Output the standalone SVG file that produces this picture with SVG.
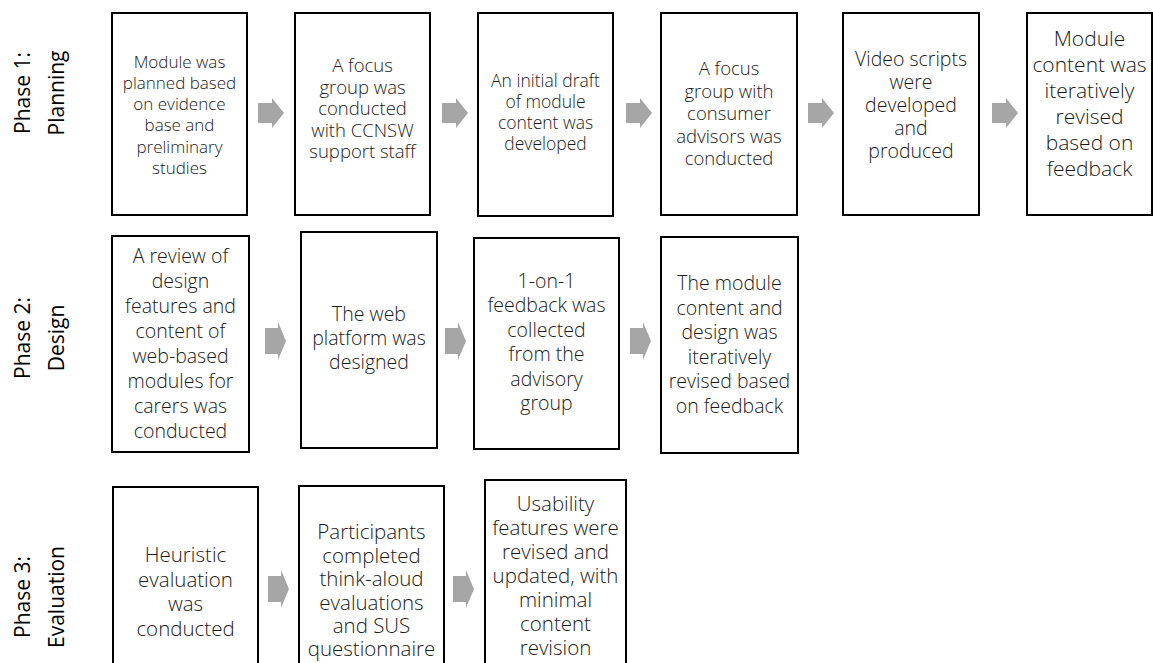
<svg xmlns="http://www.w3.org/2000/svg" width="1153" height="663" viewBox="0 0 1153 663">
<style>
.box{fill:#fff;stroke:#000;stroke-width:2}
.arr{fill:#a6a6a6;stroke:none}
.t{font-family:"Open Sans","Segoe UI","Liberation Sans",sans-serif;font-weight:300;fill:#1a1a1a;text-anchor:middle}
.ph{font-family:"Open Sans","Segoe UI","Liberation Sans",sans-serif;font-weight:400;font-size:21px;fill:#000;text-anchor:middle}
</style>
<rect width="1153" height="663" fill="#fff"/>
<g id="labels">
<text class="ph" transform="translate(0,93) rotate(-90)"><tspan x="0" y="30">Phase 1:</tspan><tspan x="0" y="64">Planning</tspan></text>
<text class="ph" transform="translate(0,338) rotate(-90)"><tspan x="0" y="30">Phase 2:</tspan><tspan x="0" y="64">Design</tspan></text>
<text class="ph" transform="translate(0,597) rotate(-90)"><tspan x="0" y="30">Phase 3:</tspan><tspan x="0" y="64">Evaluation</tspan></text>
</g>
<g id="connectors">
<polygon class="arr" points="258,103 272,103 272,98 284,113 272,128 272,123 258,123"/>
<polygon class="arr" points="442,103 456,103 456,98 468,113 456,128 456,123 442,123"/>
<polygon class="arr" points="626,103 640,103 640,98 652,113 640,128 640,123 626,123"/>
<polygon class="arr" points="808,103 822,103 822,98 834,113 822,128 822,123 808,123"/>
<polygon class="arr" points="992,103 1006,103 1006,98 1018,113 1006,128 1006,123 992,123"/>
<polygon class="arr" points="265,328 278,328 278,322 286,341 278,360 278,354 265,354"/>
<polygon class="arr" points="445,328 458,328 458,322 466,341 458,360 458,354 445,354"/>
<polygon class="arr" points="630,328 643,328 643,322 651,341 643,360 643,354 630,354"/>
<polygon class="arr" points="268,576 281,576 281,570 289,589 281,608 281,602 268,602"/>
<polygon class="arr" points="453,576 466,576 466,570 474,589 466,608 466,602 453,602"/>
</g>
<g id="p1n1"><rect class="box" x="112" y="13" width="135" height="202"/>
<text class="t" font-size="17px"><tspan x="179.5" y="68">Module was</tspan><tspan x="179.5" y="89">planned based</tspan><tspan x="179.5" y="110">on evidence</tspan><tspan x="179.5" y="131">base and</tspan><tspan x="179.5" y="153">preliminary</tspan><tspan x="179.5" y="174">studies</tspan></text></g>
<g id="p1n2"><rect class="box" x="295" y="13" width="135" height="202"/>
<text class="t" font-size="18.5px"><tspan x="362.5" y="72">A focus</tspan><tspan x="362.5" y="93.5">group was</tspan><tspan x="362.5" y="115">conducted</tspan><tspan x="362.5" y="136.5">with CCNSW</tspan><tspan x="362.5" y="158">support staff</tspan></text></g>
<g id="p1n3"><rect class="box" x="478" y="13" width="135" height="203"/>
<text class="t" font-size="17.5px"><tspan x="545.5" y="87">An initial draft</tspan><tspan x="545.5" y="108">of module</tspan><tspan x="545.5" y="129">content was</tspan><tspan x="545.5" y="150">developed</tspan></text></g>
<g id="p1n4"><rect class="box" x="661" y="13" width="136" height="202"/>
<text class="t" font-size="18.5px"><tspan x="729" y="75">A focus</tspan><tspan x="729" y="97.5">group with</tspan><tspan x="729" y="120">consumer</tspan><tspan x="729" y="142.5">advisors was</tspan><tspan x="729" y="165">conducted</tspan></text></g>
<g id="p1n5"><rect class="box" x="843" y="13" width="136" height="202"/>
<text class="t" font-size="19.5px"><tspan x="911" y="66">Video scripts</tspan><tspan x="911" y="89">were</tspan><tspan x="911" y="112">developed</tspan><tspan x="911" y="135">and</tspan><tspan x="911" y="158">produced</tspan></text></g>
<g id="p1n6"><rect class="box" x="1027" y="13" width="125" height="202"/>
<text class="t" font-size="21px"><tspan x="1089.5" y="46">Module</tspan><tspan x="1089.5" y="72">content was</tspan><tspan x="1089.5" y="98">iteratively</tspan><tspan x="1089.5" y="124">revised</tspan><tspan x="1089.5" y="150">based on</tspan><tspan x="1089.5" y="176">feedback</tspan></text></g>
<g id="p2n1"><rect class="box" x="112" y="236" width="137" height="216"/>
<text class="t" font-size="19.5px"><tspan x="180.5" y="263">A review of</tspan><tspan x="180.5" y="288">design</tspan><tspan x="180.5" y="313">features and</tspan><tspan x="180.5" y="338">content of</tspan><tspan x="180.5" y="363">web-based</tspan><tspan x="180.5" y="388">modules for</tspan><tspan x="180.5" y="413">carers was</tspan><tspan x="180.5" y="438">conducted</tspan></text></g>
<g id="p2n2"><rect class="box" x="301" y="232" width="136" height="216"/>
<text class="t" font-size="19.5px"><tspan x="369" y="321">The web</tspan><tspan x="369" y="345">platform was</tspan><tspan x="369" y="369">designed</tspan></text></g>
<g id="p2n3"><rect class="box" x="474" y="238" width="145" height="211"/>
<text class="t" font-size="19.5px"><tspan x="546.5" y="288">1-on-1</tspan><tspan x="546.5" y="312">feedback was</tspan><tspan x="546.5" y="337">collected</tspan><tspan x="546.5" y="361">from the</tspan><tspan x="546.5" y="386">advisory</tspan><tspan x="546.5" y="410">group</tspan></text></g>
<g id="p2n4"><rect class="box" x="661" y="237" width="137" height="216"/>
<text class="t" font-size="19.5px"><tspan x="729.5" y="290">The module</tspan><tspan x="729.5" y="315">content and</tspan><tspan x="729.5" y="339">design was</tspan><tspan x="729.5" y="364">iteratively</tspan><tspan x="729.5" y="388">revised based</tspan><tspan x="729.5" y="413">on feedback</tspan></text></g>
<g id="p3n1"><rect class="box" x="113" y="487" width="145" height="190"/>
<text class="t" font-size="20.5px"><tspan x="185.5" y="562">Heuristic</tspan><tspan x="185.5" y="586.5">evaluation</tspan><tspan x="185.5" y="611">was</tspan><tspan x="185.5" y="635.5">conducted</tspan></text></g>
<g id="p3n2"><rect class="box" x="299" y="486" width="145" height="190"/>
<text class="t" font-size="20.5px"><tspan x="371.5" y="539">Participants</tspan><tspan x="371.5" y="562.5">completed</tspan><tspan x="371.5" y="586">think-aloud</tspan><tspan x="371.5" y="609.5">evaluations</tspan><tspan x="371.5" y="633">and SUS</tspan><tspan x="371.5" y="656">questionnaire</tspan></text></g>
<g id="p3n3"><rect class="box" x="485" y="480" width="141" height="194"/>
<text class="t" font-size="20.5px"><tspan x="555.5" y="511">Usability</tspan><tspan x="555.5" y="535">features were</tspan><tspan x="555.5" y="559">revised and</tspan><tspan x="555.5" y="583">updated, with</tspan><tspan x="555.5" y="607">minimal</tspan><tspan x="555.5" y="631">content</tspan><tspan x="555.5" y="655">revision</tspan></text></g>
</svg>
